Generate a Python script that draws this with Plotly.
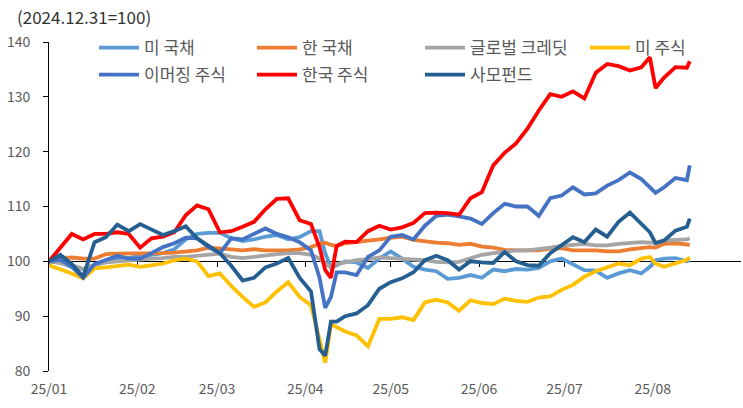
import plotly.graph_objects as go

# ---- data (index 2024.12.31 = 100) ----
dates = [
    "2025-01-01", "2025-01-05", "2025-01-09", "2025-01-13", "2025-01-17", "2025-01-21",
    "2025-01-25", "2025-01-29", "2025-02-02", "2025-02-06", "2025-02-10", "2025-02-14",
    "2025-02-18", "2025-02-22", "2025-02-26", "2025-03-02", "2025-03-06", "2025-03-10",
    "2025-03-14", "2025-03-18", "2025-03-22", "2025-03-26", "2025-03-30", "2025-04-03",
    "2025-04-06", "2025-04-08", "2025-04-10", "2025-04-12", "2025-04-15", "2025-04-19",
    "2025-04-23", "2025-04-27", "2025-05-01", "2025-05-05", "2025-05-09", "2025-05-13",
    "2025-05-17", "2025-05-21", "2025-05-25", "2025-05-29", "2025-06-02", "2025-06-06",
    "2025-06-10", "2025-06-14", "2025-06-18", "2025-06-22", "2025-06-26", "2025-06-30",
    "2025-07-04", "2025-07-08", "2025-07-12", "2025-07-16", "2025-07-20", "2025-07-24",
    "2025-07-28", "2025-07-31", "2025-08-02", "2025-08-05", "2025-08-09", "2025-08-13",
    "2025-08-14",
]

us_treasury = [
    100, 99.8, 99, 98.6, 99.3, 99.8, 100.4, 100.6, 101, 101.2, 101.5, 102.2,
    104, 105, 105.2, 105.2, 104.2, 103.7, 104, 104.5, 104.8, 104, 104.4, 105.5,
    105.5, 101.5, 98.8, 99.3, 100, 99.8, 98.8, 100.5, 101.8, 100.5, 99, 98.5,
    98.2, 96.8, 97, 97.5, 97, 98.5, 98.2, 98.6, 98.5, 98.8, 100, 100.5,
    99.5, 98.4, 98.3, 97, 97.8, 98.4, 97.8, 99, 100.2, 100.5, 100.6, 100, 100.2,
]
kr_treasury = [
    100, 100.6, 100.7, 100.5, 100.5, 101.3, 101.4, 101.4, 101.4, 101.4, 101.5, 101.6,
    101.8, 102, 102.5, 102.4, 102.2, 102, 102.2, 102, 102, 102, 102.2, 102.6,
    103.2, 103.4, 103, 102.8, 103.3, 103.5, 103.8, 104, 104.3, 104.5, 103.9, 103.6,
    103.4, 103.3, 103, 103.2, 102.7, 102.5, 102.1, 102, 102, 102, 102.3, 102.4,
    102, 102, 102, 101.8, 101.8, 102.2, 102.5, 102.6, 102.5, 103.2, 103.3, 103.1, 103,
]
global_credit = [
    100, 99.7, 99.3, 98.6, 99.4, 99.8, 100, 100.2, 100.4, 100.5, 100.6, 100.8,
    100.8, 101, 101.2, 101.4, 100.8, 100.6, 100.8, 101.1, 101.3, 101.5, 101.5, 101.2,
    100.5, 99.6, 98.9, 99.5, 99.8, 100.2, 100.4, 100.7, 100.6, 100.5, 100.4, 100.2,
    99.9, 99.8, 99.9, 100.5, 101.2, 101.5, 101.7, 102, 102, 102.2, 102.5, 102.8,
    103, 103.2, 102.9, 102.9, 103.2, 103.4, 103.5, 103.4, 103.4, 103.8, 103.9, 104, 104.2,
]
us_equity = [
    99.3, 98.6, 97.8, 96.9, 98.7, 98.9, 99.1, 99.4, 99, 99.3, 99.6, 100.2,
    100.5, 100, 97.3, 97.8, 95.5, 93.5, 91.7, 92.5, 94.5, 96.2, 93.5, 92,
    85.5, 81.5, 88.5, 88, 87.2, 86.5, 84.5, 89.5, 89.5, 89.8, 89.3, 92.5,
    93, 92.5, 91, 92.9, 92.4, 92.2, 93.2, 92.8, 92.6, 93.4, 93.6, 94.8,
    95.7, 97.2, 98.2, 98.9, 99.6, 99.3, 100.5, 100.8, 99.6, 99, 99.6, 100.3, 100.7,
]
em_equity = [
    100, 100.3, 99, 97, 99.5, 100.2, 101, 100.5, 100.5, 101.5, 102.6, 103.3,
    104.3, 104.2, 102.6, 101.5, 104.2, 104, 105, 106, 105, 104.4, 103.5, 102,
    97, 91.5, 93.5, 98, 98, 97.5, 100.8, 102, 104.5, 104.8, 104, 106.5,
    108.3, 108.5, 108.2, 107.8, 106.8, 108.8, 110.5, 110, 110, 108.3, 111.5, 112,
    113.5, 112.2, 112.4, 113.8, 114.8, 116.2, 115, 113.5, 112.5, 113.5, 115.2, 114.8, 117.5,
]
kr_equity = [
    100, 102.5, 105, 104, 105, 105, 105.3, 105, 102.5, 104.2, 104.5, 105.3,
    108.4, 110.2, 109.5, 105.3, 105.5, 106.3, 107.2, 109.5, 111.4, 111.5, 107.5, 106.8,
    102.6, 98.4, 97, 102.8, 103.6, 103.5, 105.5, 106.5, 105.8, 106.2, 107, 108.8,
    108.9, 108.8, 108.5, 111.5, 112.6, 117.5, 119.8, 121.5, 124.2, 127.5, 130.5, 130,
    131, 129.7, 134.4, 136, 135.6, 134.8, 135.4, 137.2, 131.6, 133.5, 135.4, 135.3, 136.5,
]
private_fund = [
    100, 101.2, 99.5, 97.2, 103.5, 104.4, 106.7, 105.5, 106.8, 105.8, 104.8, 105.5,
    106.4, 104.2, 102.8, 101.5, 99.2, 96.5, 97, 98.9, 99.6, 100.6, 97, 94.5,
    84, 82.8, 89, 89, 90, 90.5, 92, 95, 96.2, 96.9, 98, 100.2,
    101, 100.2, 98.5, 100, 99.8, 99.7, 101.7, 100, 99.3, 99.2, 101.5, 102.9,
    104.4, 103.5, 105.8, 104.5, 107.2, 108.9, 106.8, 105.3, 103.3, 103.8, 105.6, 106.3, 107.8,
]

series_names = ["미 국채", "한 국채", "글로벌 크레딧", "미 주식", "이머징 주식", "한국 주식", "사모펀드"]
series_values = [us_treasury, kr_treasury, global_credit, us_equity, em_equity, kr_equity, private_fund]
series_colors = ["#5B9BD5", "#ED7D31", "#A5A5A5", "#FFC000", "#4472C4", "#FF0000", "#255E91"]
# legend blocks: row 1 left/right halves, row 2 left/right halves
series_legend = ["legend", "legend", "legend2", "legend2", "legend3", "legend3", "legend4"]

month_ticks = ["2025-01-01", "2025-02-01", "2025-03-01", "2025-04-01",
               "2025-05-01", "2025-06-01", "2025-07-01", "2025-08-01"]
month_labels = ["25/01", "25/02", "25/03", "25/04", "25/05", "25/06", "25/07", "25/08"]
y_ticks = [80, 90, 100, 110, 120, 130, 140]

FONT = "Noto Sans CJK KR"
GREY = "#595959"

fig = go.Figure()

# invisible helper trace so the baseline axis (at 100) is drawn
fig.add_trace(go.Scatter(x=[dates[0], dates[-1]], y=[None, None], xaxis="x2",
                         showlegend=False, hoverinfo="skip", mode="lines"))

for name, vals, color, leg in zip(series_names, series_values, series_colors, series_legend):
    fig.add_trace(go.Scatter(
        x=dates, y=vals, mode="lines", name=name,
        line=dict(color=color, width=3.8),
        legend=leg,
    ))

x_range = ["2025-01-01", "2025-09-01"]


def legend_block(x, y, entry_w):
    return dict(
        orientation="h", xref="container", yref="container",
        xanchor="left", yanchor="middle", x=x, y=y,
        entrywidth=entry_w, entrywidthmode="pixels",
        font=dict(family=FONT, size=17, color=GREY),
        bgcolor="rgba(0,0,0,0)", itemwidth=40,
    )


LX0 = 94 / 743
LX1 = 420 / 743
ROW1 = 1 - 48 / 408
ROW2 = 1 - 75 / 408

fig.update_layout(
    width=743, height=408,
    margin=dict(l=49, r=2, t=42, b=37, autoexpand=False),
    paper_bgcolor="white", plot_bgcolor="white",
    font=dict(family=FONT, color=GREY),
    showlegend=True,
    legend=legend_block(LX0, ROW1, 103),
    legend2=legend_block(LX1, ROW1, 110),
    legend3=legend_block(LX0, ROW2, 103),
    legend4=legend_block(LX1, ROW2, 110),
    xaxis=dict(
        type="date", range=x_range,
        tickvals=month_ticks, ticktext=month_labels,
        showline=False, showgrid=False, zeroline=False, ticks="",
        ticklabelstandoff=8,
        tickfont=dict(family=FONT, size=14, color=GREY),
    ),
    xaxis2=dict(
        type="date", range=x_range, overlaying="x", anchor="free", position=(100 - 80) / (140 - 80),
        tickvals=month_ticks, showticklabels=False,
        showline=True, linecolor="#000000", linewidth=1,
        ticks="outside", ticklen=5, tickcolor="#000000", tickwidth=1,
        showgrid=False, zeroline=False, layer="below traces",
    ),
    yaxis=dict(
        range=[80, 140], tickvals=y_ticks,
        showline=True, linecolor="#000000", linewidth=1,
        ticks="outside", ticklen=5, tickcolor="#000000",
        ticklabelstandoff=10,
        showgrid=False, zeroline=False,
        tickfont=dict(family=FONT, size=14, color=GREY),
    ),
    annotations=[dict(
        text="(2024.12.31=100)", xref="paper", yref="paper",
        x=-34 / 692, y=1 + 25 / 329, xanchor="left", yanchor="middle",
        showarrow=False, font=dict(family=FONT, size=17, color="#333333"),
    )],
)

fig.write_html("out.html")
